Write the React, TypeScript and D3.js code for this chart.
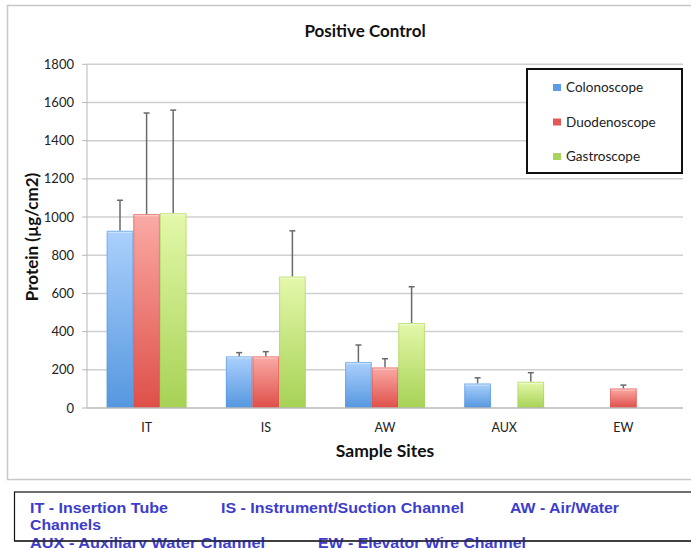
import React from "react";
import * as d3 from "d3";

const categories = ["IT", "IS", "AW", "AUX", "EW"];
const seriesNames = ["Colonoscope", "Duodenoscope", "Gastroscope"];
const colonoscope: (number | null)[] = [928, 270, 240, 128, null];
const duodenoscope: (number | null)[] = [1015, 270, 212, null, 102];
const gastroscope: (number | null)[] = [1020, 688, 445, 137, null];
const colonoscopeErr: (number | null)[] = [1088, 290, 330, 158, null];
const duodenoscopeErr: (number | null)[] = [1545, 295, 258, null, 120];
const gastroscopeErr: (number | null)[] = [1560, 928, 635, 185, null];
const yTicks = [0, 200, 400, 600, 800, 1000, 1200, 1400, 1600, 1800];
const footnotes = [
  { text: "IT - Insertion Tube", x: 30, y: 513, w: 138 },
  { text: "IS - Instrument/Suction Channel", x: 221, y: 513, w: 243 },
  { text: "AW - Air/Water", x: 510, y: 513, w: 109 },
  { text: "Channels", x: 30, y: 530, w: 71 },
  { text: "AUX - Auxiliary Water  Channel", x: 30, y: 548, w: 235 },
  { text: "EW - Elevator Wire Channel", x: 318, y: 548, w: 208 },
];

const seriesValues = [colonoscope, duodenoscope, gastroscope];
const seriesErr = [colonoscopeErr, duodenoscopeErr, gastroscopeErr];
const gradTop = ["#abd0fc", "#faaaa5", "#e4f8aa"];
const gradBot = ["#5597df", "#df4f49", "#a6d255"];
const swatch = ["#5b9de3", "#e25a55", "#a9d35e"];

const FONT = "Lato, 'Open Sans', sans-serif";

export default function App() {
  const left = 87, right = 683, top = 64.3, bottom = 408;
  const x = d3.scaleBand<string>().domain(categories).range([left, right]);
  const y = d3.scaleLinear().domain([0, 1800]).range([bottom, top]);
  const barW = 26.6;
  const groupW = barW * 3;

  return (
    <svg width={691} height={548} style={{ position: "absolute", left: 0, top: 0, background: "#fff" }}>
      <defs>
        {seriesNames.map((s, i) => (
          <linearGradient key={s} id={`g${i}`} x1="0" y1="0" x2="0" y2="1">
            <stop offset="0%" stopColor={gradTop[i]} />
            <stop offset="100%" stopColor={gradBot[i]} />
          </linearGradient>
        ))}
      </defs>
      {/* outer chart border */}
      <rect x={7.5} y={5.5} width={700} height={474} fill="#fff" stroke="#c8c8c8" strokeWidth={1.5} />
      <text x={365} y={37} textAnchor="middle" fontFamily={FONT} fontWeight="bold" fontSize={17} fill="#111">
        Positive Control
      </text>
      {/* gridlines */}
      {yTicks.map((t) => (
        <g key={t}>
          {t > 0 && <line x1={left} x2={right} y1={y(t)} y2={y(t)} stroke="#cfcfcf" strokeWidth={1.5} />}
          <line x1={left - 5} x2={left} y1={y(t)} y2={y(t)} stroke="#b8b8b8" strokeWidth={1} />
          <text x={74} y={y(t) + 4.5} textAnchor="end" fontFamily={FONT} fontSize={13} fill="#222">
            {t}
          </text>
        </g>
      ))}
      <line x1={left} x2={left} y1={top} y2={bottom} stroke="#b8b8b8" strokeWidth={1} />
      {/* bars */}
      {categories.map((c, ci) => {
        const gx = (x(c) as number) + x.bandwidth() / 2 - groupW / 2;
        return (
          <g key={c}>
            {seriesValues.map((vals, si) => {
              const v = vals[ci];
              if (v == null) return null;
              const bx = gx + si * barW;
              const e = seriesErr[si][ci] as number;
              const cx = bx + barW / 2;
              return (
                <g key={si}>
                  <line x1={cx} x2={cx} y1={y(e)} y2={y(v)} stroke="#6a6a6a" strokeWidth={1.5} />
                  <line x1={cx - 3} x2={cx + 3} y1={y(e)} y2={y(e)} stroke="#6a6a6a" strokeWidth={1.5} />
                  <rect x={bx} y={y(v)} width={barW} height={bottom - y(v)} fill={`url(#g${si})`} />
                  <rect x={bx + 0.5} y={y(v) + 0.5} width={barW - 1} height={bottom - y(v) - 1} fill="none" stroke={gradBot[si]} strokeOpacity={0.55} strokeWidth={1} />
                  <line x1={bx + 1} x2={bx + barW - 1} y1={y(v) + 1.5} y2={y(v) + 1.5} stroke="#fff" strokeOpacity={0.5} strokeWidth={1} />
                </g>
              );
            })}
          </g>
        );
      })}
      <line x1={left} x2={right} y1={bottom} y2={bottom} stroke="#b8b8b8" strokeWidth={1.5} />
      {categories.map((c) => (
        <text key={c} x={(x(c) as number) + x.bandwidth() / 2} y={432} textAnchor="middle" fontFamily={FONT} fontSize={12.5} fill="#222">
          {c}
        </text>
      ))}
      <text x={385} y={457} textAnchor="middle" fontFamily={FONT} fontWeight="bold" fontSize={17.5} fill="#111">
        Sample Sites
      </text>
      <text transform="translate(38,237) rotate(-90)" textAnchor="middle" fontFamily={FONT} fontWeight="bold" fontSize={17} fill="#111">
        Protein (µg/cm2)
      </text>
      {/* legend */}
      <rect x={527} y={69} width={155} height={104} fill="#fff" stroke="#111" strokeWidth={2} />
      {seriesNames.map((s, i) => (
        <g key={s}>
          <rect x={553} y={84 + i * 34.5} width={8} height={7} fill={swatch[i]} />
          <text x={566} y={92 + i * 34.5} fontFamily={FONT} fontSize={13.5} fill="#222">
            {s}
          </text>
        </g>
      ))}
      {/* footnote */}
      <rect x={14.5} y={492} width={690} height={49} fill="#fff" stroke="#111" strokeWidth={1.2} />
      <g fontFamily="'Liberation Sans', Arial, sans-serif" fontWeight="bold" fontSize={14.5} fill="#3d3ccc">
        {footnotes.map((f) => (
          <text key={f.text} x={f.x} y={f.y} textLength={f.w} lengthAdjust="spacingAndGlyphs">
            {f.text}
          </text>
        ))}
      </g>
      <line x1={14.5} x2={691} y1={541} y2={541} stroke="#111" strokeWidth={1.2} />
    </svg>
  );
}
